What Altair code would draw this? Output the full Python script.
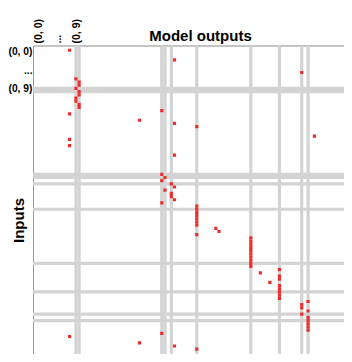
import altair as alt
import pandas as pd

# indices (rows and columns) highlighted by grey stripes
stripe_idx = [13, 14, 40, 41, 43, 51, 68, 77, 84, 86]

# non-zero entries: column (model output) and row (input) indices
red_col = [11, 44, 84, 13, 14, 14, 13, 14, 14, 13, 13, 14, 14, 40, 11, 33, 44, 51,
           88, 11, 11, 44,
           40, 41, 40, 43, 44, 41, 43, 43, 44, 40,
           51, 51, 51, 51, 51, 51, 51, 57, 58, 51,
           68, 68, 68, 68, 68, 68, 68, 68, 68, 68,
           77, 71, 77, 77, 74, 77, 77, 77, 77, 77,
           86, 84, 84, 86, 84, 86, 86, 86, 86, 86,
           40, 11, 33, 44, 51, 84,
           100, 100, 100, 100, 100, 100, 100, 100, 100, 100, 100, 100, 100, 100,
           100, 100, 100, 100, 100, 100, 100]
red_row = [1, 4, 8, 10, 11, 12, 13, 14, 15, 16, 17, 18, 19, 20, 21, 23, 24, 25,
           28, 29, 31, 34,
           40, 41, 42, 43, 44, 45, 46, 47, 48, 49,
           50, 51, 52, 53, 54, 55, 56, 57, 58, 59,
           60, 61, 62, 63, 64, 65, 66, 67, 68, 69,
           70, 71, 72, 73, 74, 75, 76, 77, 78, 79,
           80, 81, 82, 83, 84, 85, 86, 87, 88, 89,
           90, 91, 93, 94, 95, 97,
           2, 3, 5, 6, 7, 9, 22, 26, 27, 30, 32, 33, 34, 35,
           36, 37, 38, 92, 95, 96, 97]

tick_values = [1.8, 7.8, 13.6]
x_tick_labels = ["(0, 0)", "\u00a0...", "(0, 9)"]
y_tick_labels = ["(0, 0)", "...\u00a0\u00a0", "(0, 9)"]

CELL = 3.18
PAD_L, PAD_T = 25, 37.5
W, H = 311, 308.5
FONT = "Liberation Sans"
GREY = "#d3d3d3"
RED = "#ee2c2c"

stripes = pd.DataFrame({"i": stripe_idx})
cells = pd.DataFrame({"c": red_col, "r": red_row})


def make_expr(labels):
    return " : ".join(
        [f"datum.value == {v} ? '{t}'" for v, t in zip(tick_values, labels)]
    ) + " : ''"


xs = alt.Scale(domain=[0, W / CELL], nice=False, zero=False)
ys = alt.Scale(domain=[0, H / CELL], nice=False, zero=False, reverse=True)

x_axis = alt.Axis(
    orient="top", values=tick_values, labelExpr=make_expr(x_tick_labels),
    labelAngle=270, labelAlign="left", labelBaseline="middle",
    labelFont=FONT, labelFontSize=10.5, labelFontWeight="bold", labelColor="#000",
    labelPadding=2.5, ticks=False, grid=False, domainColor="#999999", domainWidth=1,
    title="Model outputs", titleFont=FONT, titleFontSize=15, titleFontWeight="bold",
    titleColor="#000", titleX=167, titleY=-5.5, titleAlign="center",
    titleBaseline="alphabetic", labelOverlap=False, labelBound=False, labelFlush=False,
)
y_axis = alt.Axis(
    orient="left", values=tick_values, labelExpr=make_expr(y_tick_labels),
    labelAlign="right", labelBaseline="middle",
    labelFont=FONT, labelFontSize=10.3, labelFontWeight="bold", labelColor="#000",
    labelPadding=1, ticks=False, grid=False, domainColor="#999999", domainWidth=1,
    title="Inputs", titleFont=FONT, titleFontSize=15, titleFontWeight="bold",
    titleColor="#000", titleAngle=270, titleX=-10, titleY=174.5, titleAlign="center",
    titleBaseline="alphabetic", labelOverlap=False, labelBound=False, labelFlush=False,
)

col_stripes = alt.Chart(stripes).mark_rect(color=GREY, clip=True).transform_calculate(
    i2="datum.i + 1"
).encode(
    x=alt.X("i:Q", scale=xs, axis=x_axis),
    x2="i2:Q",
    y=alt.value(0),
    y2=alt.value(H),
)

row_stripes = alt.Chart(stripes).mark_rect(color=GREY, clip=True).transform_calculate(
    i2="datum.i + 1"
).encode(
    y=alt.Y("i:Q", scale=ys, axis=y_axis),
    y2="i2:Q",
    x=alt.value(0),
    x2=alt.value(W),
)

red = alt.Chart(cells).mark_rect(color=RED, clip=True).transform_calculate(
    c2="datum.c + 1", r2="datum.r + 1"
).encode(
    x=alt.X("c:Q", scale=xs, axis=x_axis),
    x2="c2:Q",
    y=alt.Y("r:Q", scale=ys, axis=y_axis),
    y2="r2:Q",
)

chart = alt.layer(col_stripes, row_stripes, red).properties(
    width=W, height=H,
    autosize=alt.AutoSizeParams(type="none"),
    padding={"left": PAD_L, "top": PAD_T, "right": 0, "bottom": 0},
).configure_view(stroke=None).configure(background="white")

chart.save("out.html", embed_options={"renderer": "svg", "actions": False})
